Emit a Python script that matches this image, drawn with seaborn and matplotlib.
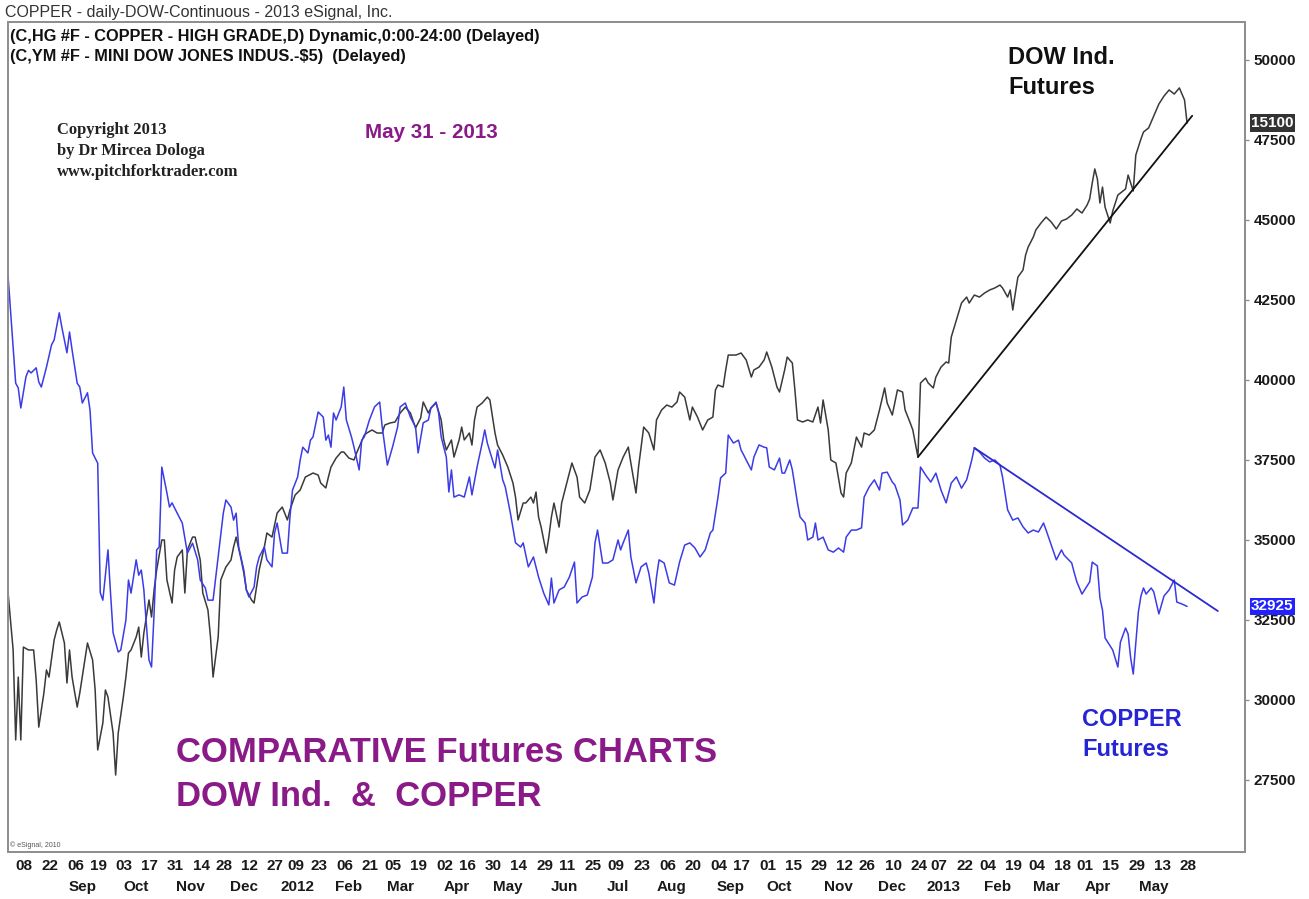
import pandas as pd
import matplotlib
matplotlib.use("Agg")
import matplotlib.pyplot as plt
import matplotlib.transforms as mtransforms
import seaborn as sns

sns.set_theme(style="white")
plt.rcParams['font.family'] = ['Liberation Sans', 'DejaVu Sans']

# exchange holidays (no daily bar) between Aug 2011 and May 2013
holidays = ['2011-09-05', '2011-11-24', '2011-12-26', '2012-01-02', '2012-01-16',
            '2012-02-20', '2012-04-06', '2012-05-28', '2012-07-04', '2012-09-03',
            '2012-11-22', '2012-12-25', '2013-01-01', '2013-01-21', '2013-02-18',
            '2013-03-29', '2013-05-27']

tick_dates = ['2011-08-08', '2011-08-22', '2011-09-06', '2011-09-19', '2011-10-03',
              '2011-10-17', '2011-10-31', '2011-11-14', '2011-11-28', '2011-12-12',
              '2011-12-27', '2012-01-09', '2012-01-23', '2012-02-06', '2012-02-21',
              '2012-03-05', '2012-03-19', '2012-04-02', '2012-04-16', '2012-04-30',
              '2012-05-14', '2012-05-29', '2012-06-11', '2012-06-25', '2012-07-09',
              '2012-07-23', '2012-08-06', '2012-08-20', '2012-09-04', '2012-09-17',
              '2012-10-01', '2012-10-15', '2012-10-29', '2012-11-12', '2012-11-26',
              '2012-12-10', '2012-12-24', '2013-01-07', '2013-01-22', '2013-02-04',
              '2013-02-19', '2013-03-04', '2013-03-18', '2013-04-01', '2013-04-15',
              '2013-04-29', '2013-05-13', '2013-05-28']

month_starts = ['2011-09-01', '2011-10-01', '2011-11-01', '2011-12-01', '2012-01-01',
                '2012-02-01', '2012-03-01', '2012-04-01', '2012-05-01', '2012-06-01',
                '2012-07-01', '2012-08-01', '2012-09-01', '2012-10-01', '2012-11-01',
                '2012-12-01', '2013-01-01', '2013-02-01', '2013-03-01', '2013-04-01',
                '2013-05-01']
month_names = ['Sep', 'Oct', 'Nov', 'Dec', '2012', 'Feb', 'Mar', 'Apr', 'May', 'Jun',
               'Jul', 'Aug', 'Sep', 'Oct', 'Nov', 'Dec', '2013', 'Feb', 'Mar', 'Apr', 'May']

# copper (HG, x10000) - trading day index from Aug 3 2011
cu_day = [0, 3, 4, 5, 7, 8, 9, 11, 12, 13, 15, 17, 18, 20, 21, 23, 24, 25, 27, 28, 29, 31, 32, 33,
          35, 36, 37, 39, 40, 41, 43, 44, 46, 47, 48, 50, 51, 52, 53, 55, 56, 57, 58, 59, 60, 62,
          63, 64, 66, 68, 70, 72, 74, 75, 77, 78, 80, 82, 84, 85, 87, 88, 89, 90, 92, 93, 94, 96,
          97, 98, 100, 101, 103, 104, 105, 107, 109, 110, 111, 113, 114, 115, 117, 118, 119, 121,
          123, 124, 125, 126, 127, 128, 130, 131, 132, 134, 135, 137, 138, 139, 141, 143, 145,
          146, 148, 150, 152, 153, 155, 157, 159, 160, 162, 164, 165, 167, 168, 169, 171, 172,
          173, 174, 176, 178, 180, 181, 183, 185, 186, 187, 189, 190, 191, 193, 194, 196, 198,
          200, 201, 203, 205, 207, 209, 211, 212, 213, 215, 217, 219, 221, 222, 224, 226, 228,
          229, 230, 232, 234, 236, 238, 239, 240, 242, 243, 245, 247, 249, 250, 252, 253, 254,
          256, 258, 260, 262, 264, 266, 268, 270, 272, 274, 275, 277, 278, 280, 281, 283, 285,
          286, 287, 288, 290, 291, 293, 295, 296, 297, 299, 301, 302, 303, 305, 306, 308, 309,
          311, 312, 314, 315, 316, 318, 320, 322, 324, 326, 327, 329, 331, 333, 334, 336, 338,
          340, 341, 343, 345, 346, 348, 349, 351, 353, 355, 356, 358, 360, 362, 364, 366, 368,
          370, 372, 374, 376, 377, 379, 381, 383, 385, 387, 388, 390, 392, 394, 396, 398, 400,
          402, 404, 405, 407, 409, 411, 412, 415, 416, 417, 419, 421, 422, 423, 425, 426, 427,
          428, 431, 433, 434, 436, 437, 438, 439, 441, 442, 443, 444, 446, 447, 449, 451, 453,
          455, 456, 458, 460]
cu_val = [43280, 39900, 39750, 39125, 40100, 40300, 40220, 40380, 39940, 39780, 40400, 41100,
          41250, 42100, 41650, 40850, 41500, 40940, 39900, 39780, 39280, 39600, 39060, 37720,
          37400, 33350, 33120, 34690, 33340, 32100, 31500, 31560, 32500, 33750, 33340, 34380,
          33900, 34060, 33440, 31250, 31030, 32720, 34690, 34780, 37280, 36470, 36030, 36160,
          35840, 35530, 34590, 34900, 34380, 33750, 33500, 33120, 33120, 34470, 35840, 36250,
          36030, 35620, 35840, 34780, 34060, 33440, 33220, 33530, 34160, 34470, 34780, 34380,
          34160, 35220, 35530, 34590, 34590, 35720, 36560, 36970, 37500, 37900, 37720, 38120,
          38220, 39000, 38840, 38120, 38280, 37900, 38970, 38750, 39160, 39780, 38750, 38220,
          37900, 37190, 38120, 38220, 38750, 39160, 39310, 38530, 37340, 37900, 38530, 39160,
          39280, 38840, 38530, 37720, 38660, 38750, 39120, 39310, 38970, 38220, 37590, 36500,
          37190, 36340, 36410, 36340, 36970, 36410, 37280, 38030, 38440, 38030, 37500, 37250,
          37810, 36880, 36660, 35840, 34910, 34780, 34910, 34160, 34470, 33840, 33340, 32970,
          33810, 33030, 33440, 33530, 33840, 34310, 33030, 33220, 33280, 33840, 34910, 35310,
          34280, 34280, 34380, 35000, 34690, 34910, 35310, 34470, 33660, 34160, 34280, 33970,
          33030, 33840, 34380, 34280, 33660, 33590, 34310, 34840, 34910, 34750, 34470, 34690,
          35220, 35310, 36340, 36940, 37090, 38280, 38030, 38120, 37810, 37660, 37500, 37190,
          37590, 37970, 37900, 37880, 37280, 37190, 37560, 37090, 37090, 37500, 37190, 36160,
          35720, 35530, 35000, 35090, 35530, 35000, 35090, 34690, 34620, 34750, 34620, 35090,
          35310, 35310, 35380, 36340, 36660, 36880, 36560, 37090, 37120, 36810, 36720, 36250,
          35470, 35620, 36000, 36000, 37280, 37030, 36810, 37090, 36560, 36160, 36780, 36970,
          36620, 36880, 37500, 37880, 37750, 37560, 37440, 37500, 37340, 36970, 35940, 35620,
          35690, 35410, 35220, 35310, 35250, 35530, 35310, 34840, 34380, 34690, 34530, 34280,
          33970, 33690, 33310, 33560, 33690, 34310, 34190, 33190, 32810, 31940, 31560, 31030,
          31810, 32250, 32060, 31310, 30810, 32750, 33250, 33500, 33310, 33500, 33380, 32690,
          33250, 33440, 33750, 33060, 33000, 32925]

# mini Dow (YM) closes on the same trading day index
dow_day = [0, 2, 3, 4, 5, 6, 8, 10, 11, 12, 14, 15, 16, 18, 19, 20, 22, 23, 24, 25, 27, 28, 30,
           31, 33, 34, 35, 37, 38, 39, 41, 42, 43, 45, 46, 47, 48, 50, 51, 52, 53, 55, 56, 57,
           58, 60, 61, 62, 64, 65, 66, 68, 69, 70, 72, 73, 75, 76, 78, 79, 80, 82, 83, 85, 87,
           88, 89, 91, 92, 93, 95, 96, 98, 100, 101, 103, 105, 107, 109, 110, 112, 114, 116,
           119, 121, 122, 124, 125, 126, 128, 130, 131, 133, 135, 136, 137, 139, 140, 142, 144,
           146, 147, 149, 151, 153, 155, 157, 159, 161, 162, 164, 165, 167, 169, 170, 171, 173,
           174, 176, 177, 178, 180, 181, 182, 183, 185, 187, 188, 190, 191, 193, 195, 197, 198,
           199, 201, 202, 204, 205, 206, 207, 208, 210, 211, 212, 213, 215, 216, 217, 219, 220,
           222, 223, 225, 227, 229, 231, 233, 235, 236, 238, 240, 242, 243, 245, 246, 248, 250,
           252, 253, 255, 257, 259, 261, 262, 264, 266, 267, 269, 271, 273, 275, 276, 277, 279,
           280, 281, 284, 286, 288, 290, 291, 293, 295, 296, 298, 300, 301, 303, 304, 306, 307,
           308, 310, 312, 314, 316, 317, 318, 320, 321, 323, 325, 326, 327, 329, 331, 333, 334,
           336, 338, 340, 342, 343, 345, 347, 349, 350, 352, 353, 355, 356, 358, 359, 361, 362,
           364, 366, 367, 368, 370, 372, 374, 375, 377, 379, 381, 383, 385, 387, 388, 390, 391,
           392, 393, 394, 396, 397, 398, 400, 401, 403, 405, 407, 409, 411, 413, 415, 417, 419,
           421, 422, 423, 424, 425, 426, 427, 428, 430, 431, 433, 435, 436, 437, 439, 440, 442,
           443, 445, 447, 449, 451, 453, 455, 457, 458, 459, 460]
dow_val = [11864, 11464, 10843, 11277, 10843, 11484, 11464, 11464, 11257, 10932, 11167, 11326,
           11277, 11533, 11602, 11657, 11512, 11236, 11464, 11277, 11070, 11167, 11395, 11512,
           11395, 11188, 10774, 10960, 11188, 11139, 10891, 10601, 10891, 11139, 11277, 11443,
           11464, 11553, 11622, 11415, 11581, 11809, 11691, 11878, 12016, 12223, 12223, 11947,
           11788, 12016, 12105, 12154, 11857, 12154, 12243, 12243, 12085, 11857, 11740, 11553,
           11277, 11553, 11947, 12036, 12085, 12174, 12243, 12085, 11995, 11878, 11809, 11788,
           12016, 12174, 12271, 12243, 12409, 12450, 12361, 12430, 12533, 12568, 12657, 12685,
           12671, 12616, 12582, 12657, 12726, 12788, 12830, 12830, 12788, 12775, 12823, 12864,
           12947, 12961, 12982, 12961, 12961, 13016, 13030, 13037, 13099, 13140, 13099, 12996,
           13065, 13175, 13099, 13134, 13168, 13051, 12913, 12844, 12913, 12795, 12913, 13002,
           12913, 12961, 12878, 13051, 13140, 13168, 13209, 13189, 12961, 12878, 12809, 12726,
           12616, 12519, 12361, 12478, 12478, 12519, 12478, 12554, 12381, 12312, 12133, 12243,
           12381, 12478, 12312, 12478, 12547, 12685, 12754, 12657, 12519, 12478, 12568, 12795,
           12844, 12754, 12616, 12499, 12706, 12795, 12864, 12754, 12547, 12726, 13002, 12961,
           12844, 13051, 13120, 13154, 13140, 13175, 13244, 13209, 13051, 13140, 13071, 12982,
           13051, 13071, 13258, 13292, 13278, 13396, 13499, 13499, 13513, 13465, 13347, 13396,
           13416, 13465, 13520, 13416, 13278, 13244, 13396, 13485, 13444, 13258, 13051, 13037,
           13051, 13037, 13140, 13030, 13189, 12982, 12775, 12754, 12547, 12519, 12685, 12754,
           12933, 12864, 12961, 12947, 12982, 13120, 13272, 13168, 13085, 13258, 13244, 13120,
           13030, 12982, 12795, 13306, 13340, 13306, 13272, 13347, 13416, 13451, 13444, 13623,
           13741, 13858, 13899, 13858, 13913, 13899, 13927, 13948, 13962, 13982, 13962, 13899,
           13948, 13810, 13927, 14037, 14086, 14189, 14244, 14313, 14362, 14410, 14451, 14417,
           14369, 14424, 14438, 14465, 14507, 14479, 14534, 14576, 14686, 14783, 14714, 14548,
           14658, 14520, 14410, 14493, 14603, 14631, 14645, 14741, 14631, 14879, 14990, 15038,
           15066, 15148, 15231, 15286, 15328, 15300, 15342, 15300, 15259, 15100]

# hand-drawn trend lines (anchor day, price)
dow_trend_day = [355, 462]
dow_trend_val = [12795, 15150]
cu_trend_day = [377, 472]
cu_trend_val = [37880, 32780]

cu_last = 32925
dow_last = 15100
cu_ticks = [27500, 30000, 32500, 35000, 37500, 40000, 42500, 45000, 47500, 50000]

days = pd.bdate_range('2011-08-03', '2013-05-31')
days = days[~days.isin(pd.to_datetime(holidays))]
tick_pos = days.get_indexer(pd.to_datetime(tick_dates))
tick_lab = [d.strftime('%d') for d in pd.to_datetime(tick_dates)]
month_pos = days.searchsorted(pd.to_datetime(month_starts)) + 8

purple = '#8a1a88'
blue_line = '#3b3be8'
frame_col = '#8f8f8f'

fig = plt.figure(figsize=(13.09, 8.99), dpi=100)
fig.patch.set_facecolor('white')
ax = fig.add_axes([8 / 1309, 1 - 852 / 899, 1237 / 1309, 830 / 899])
ax2 = ax.twinx()

# Dow on the hidden left scale, copper on the right price scale
sns.lineplot(x=dow_day, y=dow_val, ax=ax, color='#3a3a3a', linewidth=1.1, errorbar=None)
sns.lineplot(x=cu_day, y=cu_val, ax=ax2, color=blue_line, linewidth=1.1, errorbar=None)
sns.lineplot(x=dow_trend_day, y=dow_trend_val, ax=ax, color='#111111', linewidth=1.3, errorbar=None)
sns.lineplot(x=cu_trend_day, y=cu_trend_val, ax=ax2, color='#2a2ad0', linewidth=1.3, errorbar=None)

ax.set_xlim(0, 482.6)
ax.set_ylim(10070, 15797)
ax2.set_ylim(25250, 51187)

ax.set_yticks([])
ax.set_ylabel('')
ax2.set_ylabel('')
ax2.set_yticks(cu_ticks)
ax2.set_yticklabels([str(t) for t in cu_ticks])
ax2.tick_params(axis='y', right=True, length=3, width=1, color=frame_col, pad=3,
                labelsize=11, labelcolor='#1a1a1a')
for lab in ax2.get_yticklabels():
    lab.set_fontweight('bold')

ax.set_xticks(tick_pos)
ax.set_xticklabels(tick_lab, ha='left')
ax.tick_params(axis='x', bottom=False, length=0, pad=5, labelsize=11, labelcolor='#1a1a1a')
for lab in ax.get_xticklabels():
    lab.set_fontweight('bold')

xt = ax.get_xaxis_transform()
for p, name in zip(month_pos, month_names):
    ax.text(p, -0.042, name, transform=xt, ha='center', va='center', fontsize=11,
            fontweight='bold', color='#1a1a1a', clip_on=False)

for a in (ax, ax2):
    for s in a.spines.values():
        s.set_color(frame_col)
        s.set_linewidth(1.3)

# last value boxes on the price scale
tr_dow = mtransforms.blended_transform_factory(ax.transAxes, ax.transData)
ax.text(1.005, dow_last, str(dow_last), transform=tr_dow, ha='left', va='center',
        fontsize=11, fontweight='bold', color='white', zorder=10, clip_on=False,
        bbox=dict(boxstyle='square,pad=0.1', fc='#333333', ec='none'))
tr_cu = mtransforms.blended_transform_factory(ax2.transAxes, ax2.transData)
ax2.text(1.005, cu_last, str(cu_last), transform=tr_cu, ha='left', va='center',
         fontsize=11, fontweight='bold', color='white', zorder=10, clip_on=False,
         bbox=dict(boxstyle='square,pad=0.1', fc='#2222ff', ec='none'))


def ftext(x, y, s, **kw):
    fig.text(x / 1309, 1 - y / 899, s, va='center', ha='left', **kw)


ftext(5, 12, 'COPPER - daily-DOW-Continuous - 2013 eSignal, Inc.', fontsize=11.5, color='#333333')
ftext(10, 36, '(C,HG #F - COPPER - HIGH GRADE,D) Dynamic,0:00-24:00 (Delayed)',
      fontsize=11.8, fontweight='bold', color='#111111')
ftext(10, 56, r'(C,YM #F - MINI DOW JONES INDUS.-\$5)  (Delayed)',
      fontsize=11.8, fontweight='bold', color='#111111')

for yy, s in zip([130, 151, 172], ['Copyright 2013', 'by Dr Mircea Dologa', 'www.pitchforktrader.com']):
    ftext(57, yy, s, fontsize=11.9, fontweight='bold', color='#222222',
          family=['Liberation Serif', 'DejaVu Serif'])

ftext(365, 132, 'May 31 - 2013', fontsize=14.8, fontweight='bold', color=purple)
ftext(1008, 58, 'DOW Ind.', fontsize=17, fontweight='bold', color='#111111')
ftext(1008, 88, 'Futures', fontsize=17, fontweight='bold', color='#111111')
ftext(1082, 720, 'COPPER', fontsize=17, fontweight='bold', color='#2525d5')
ftext(1082, 750, 'Futures', fontsize=17, fontweight='bold', color='#2525d5')
ftext(176, 752, 'COMPARATIVE Futures CHARTS', fontsize=24.9, fontweight='bold', color=purple)
ftext(176, 797, 'DOW Ind.  &  COPPER', fontsize=24.9, fontweight='bold', color=purple)
ftext(10, 845, '\u00a9 eSignal, 2010', fontsize=5, color='#555555')

fig.savefig('out.png', dpi=100, facecolor='white')
